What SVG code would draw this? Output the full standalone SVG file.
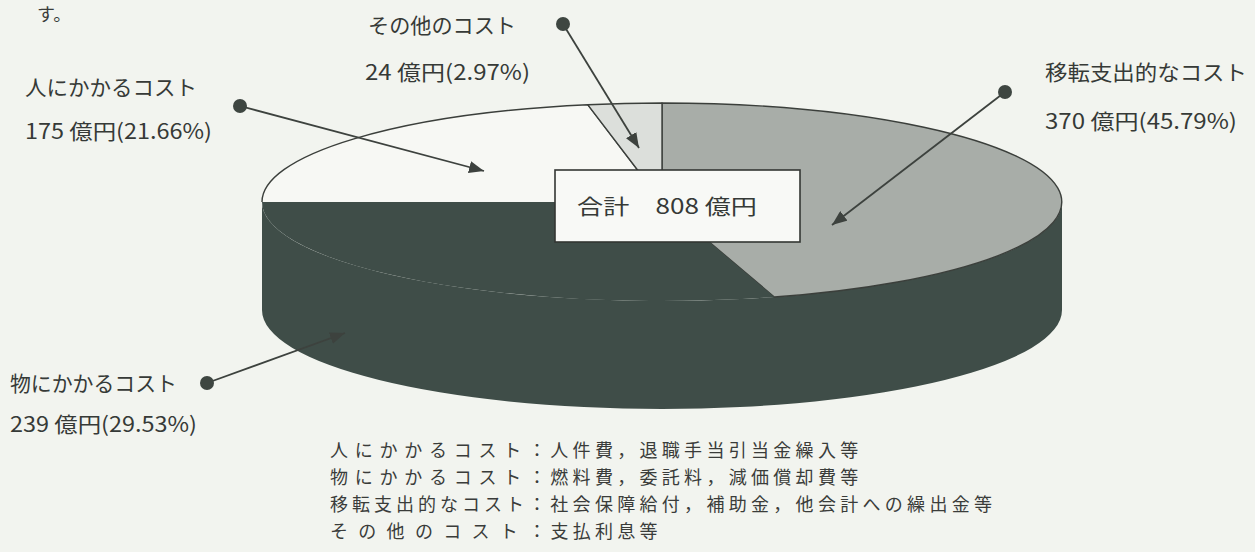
<svg xmlns="http://www.w3.org/2000/svg" width="1255" height="552" viewBox="0 0 1255 552">
  <style>
    .lbl { font-family: "Noto Sans CJK JP", "Noto Sans", sans-serif; font-size: 21px; fill: #363a37; }
    .leg { font-family: "Noto Sans CJK JP", "Noto Sans", sans-serif; font-size: 18px; fill: #3a3c3a; }
    .edge { stroke: #3b3f3b; stroke-width: 1.4; stroke-linejoin: round; }
    .conn { stroke: #3d423e; stroke-width: 1.8; fill: none; }
    .dot { fill: #3e4641; }
  </style>
  <defs>
    <marker id="ah" markerUnits="userSpaceOnUse" markerWidth="16" markerHeight="12" refX="15" refY="6" orient="auto">
      <path d="M0,0 L15,6 L0,12 Z" fill="#3d423e"/>
    </marker>
  </defs>

  <rect x="0" y="0" width="1255" height="552" fill="#f2f4ef"/>

  <text x="37" y="21" class="leg">す。</text>

  <g id="pie">
    <path id="side-wall" d="M262 202 L262 310 A400 99 0 0 0 662 409 A400 99 0 0 0 1062 310 L1062 202 A400 99 0 0 1 662 301 A400 99 0 0 1 262 202 Z" fill="#3f4d48"/>
    <path id="slice-iten" class="edge" d="M662 202 L774.3 297 A400 99 0 0 0 662 103 Z" fill="#a8ada8"/>
    <path id="slice-mono" d="M662 202 L262 202 A400 99 0 0 0 774.3 297 Z" fill="#3f4d48"/>
    <path id="slice-hito" class="edge" d="M662 202 L587.7 104.7 A400 99 0 0 0 262 202" fill="#f7f8f4"/>
    <path id="slice-sonota" class="edge" d="M662 202 L662 103 A400 99 0 0 0 587.7 104.7 Z" fill="#dcdfdb"/>
  </g>

  <g id="connectors">
    <line class="conn" x1="240" y1="106" x2="484" y2="171" marker-end="url(#ah)"/>
    <line class="conn" x1="563" y1="24" x2="639" y2="148" marker-end="url(#ah)"/>
    <line class="conn" x1="1005" y1="92" x2="832" y2="225" marker-end="url(#ah)"/>
    <line class="conn" x1="207" y1="383" x2="345" y2="333" marker-end="url(#ah)"/>
    <circle class="dot" cx="240" cy="106" r="7"/>
    <circle class="dot" cx="563" cy="24" r="7"/>
    <circle class="dot" cx="1005" cy="92" r="7"/>
    <circle class="dot" cx="207" cy="383" r="7"/>
  </g>

  <g id="total-box">
    <rect x="555" y="170" width="245" height="72" fill="#f8f9f6" stroke="#333633" stroke-width="1.6"/>
    <text x="577" y="214" class="lbl" font-size="24" textLength="180" lengthAdjust="spacingAndGlyphs">合計　808 億円</text>
  </g>

  <g id="label-hito">
    <text x="25" y="95" class="lbl" textLength="172" lengthAdjust="spacingAndGlyphs">人にかかるコスト</text>
    <text x="25" y="139" class="lbl" textLength="187" lengthAdjust="spacingAndGlyphs">175 億円(21.66%)</text>
  </g>
  <g id="label-sonota">
    <text x="368" y="33" class="lbl" textLength="148" lengthAdjust="spacingAndGlyphs">その他のコスト</text>
    <text x="365" y="80" class="lbl" textLength="165" lengthAdjust="spacingAndGlyphs">24 億円(2.97%)</text>
  </g>
  <g id="label-iten">
    <text x="1045" y="80" class="lbl" textLength="202" lengthAdjust="spacingAndGlyphs">移転支出的なコスト</text>
    <text x="1045" y="129" class="lbl" textLength="192" lengthAdjust="spacingAndGlyphs">370 億円(45.79%)</text>
  </g>
  <g id="label-mono">
    <text x="10" y="391" class="lbl" textLength="167" lengthAdjust="spacingAndGlyphs">物にかかるコスト</text>
    <text x="10" y="432" class="lbl" textLength="187" lengthAdjust="spacingAndGlyphs">239 億円(29.53%)</text>
  </g>

  <g id="legend">
    <text x="330" y="457" class="leg"><tspan letter-spacing="6.75">人にかかるコスト</tspan><tspan letter-spacing="4.3">：人件費，退職手当引当金繰入等</tspan></text>
    <text x="330" y="484" class="leg"><tspan letter-spacing="6.75">物にかかるコスト</tspan><tspan letter-spacing="4.3">：燃料費，委託料，減価償却費等</tspan></text>
    <text x="330" y="511" class="leg"><tspan letter-spacing="4">移転支出的なコスト</tspan><tspan letter-spacing="4.3">：社会保障給付，補助金，他会計への繰出金等</tspan></text>
    <text x="330" y="538" class="leg"><tspan letter-spacing="10.3">その他のコスト</tspan><tspan letter-spacing="4.3">：支払利息等</tspan></text>
  </g>
</svg>
